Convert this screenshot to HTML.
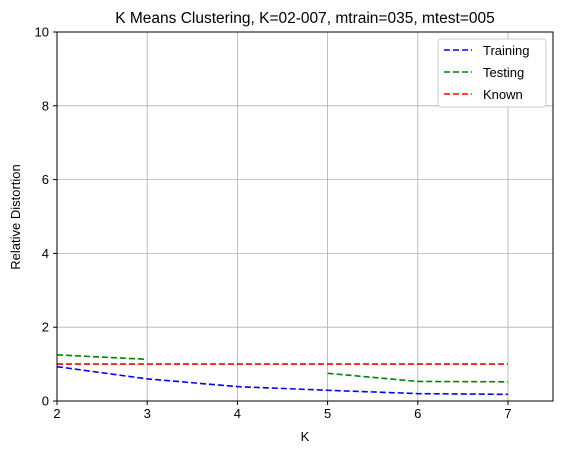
<!DOCTYPE html>
<html><head><meta charset="utf-8"><style>
body{margin:0;background:#fff;font-family:"Liberation Sans","DejaVu Sans",sans-serif;}
svg{display:block}
</style></head><body>
<svg id="chart" width="566" height="455" xmlns="http://www.w3.org/2000/svg">
<rect width="566" height="455" fill="#fff"/>
<g id="grid"></g>
<g id="series"></g>
<rect x="57" y="32" width="496" height="369" fill="none" stroke="#000" stroke-width="1"/>
<g id="ticks" font-size="13" fill="#000"></g>
<text x="305" y="23" text-anchor="middle" font-size="15.5">K Means Clustering, K=02-007, mtrain=035, mtest=005</text>
<text x="305" y="441" text-anchor="middle" font-size="13">K</text>
<text transform="translate(20,217) rotate(-90)" text-anchor="middle" font-size="13">Relative Distortion</text>
<g>
<rect x="438" y="39" width="108" height="68" rx="3" fill="#fff" stroke="#ccc"/>
<line x1="444" y1="50" x2="472" y2="50" stroke="#0000ff" stroke-width="1.6" stroke-dasharray="6,3"/>
<text x="483" y="55" font-size="13">Training</text>
<line x1="444" y1="72" x2="472" y2="72" stroke="#008000" stroke-width="1.6" stroke-dasharray="6,3"/>
<text x="483" y="77" font-size="13">Testing</text>
<line x1="444" y1="94" x2="472" y2="94" stroke="#ff0000" stroke-width="1.6" stroke-dasharray="6,3"/>
<text x="483" y="99" font-size="13">Known</text>
</g>
</svg>
<script>
const kValues=[2,3,4,5,6,7];
const training=[0.93,0.60,0.39,0.29,0.20,0.18];
const testing=[1.25,1.13,null,0.75,0.53,0.52];
const known=[1,1,1,1,1,1];
const xTicks=[2,3,4,5,6,7];
const yTicks=[0,2,4,6,8,10];
const NS="http://www.w3.org/2000/svg";
function xs(v){return 57+(v-2)*90.2;}
function ys(v){return 401-v*36.9;}
const grid=document.getElementById('grid'),ticks=document.getElementById('ticks'),ser=document.getElementById('series');
function mk(t,a,p){const e=document.createElementNS(NS,t);for(const k in a)e.setAttribute(k,a[k]);p.appendChild(e);return e;}
xTicks.forEach(v=>{
 const g=mk('line',{x1:xs(v),x2:xs(v),y1:32,y2:401,stroke:'#b0b0b0','stroke-width':0.8},grid);
 
 
 const t=mk('line',{x1:xs(v),x2:xs(v),y1:401,y2:405,stroke:'#000'},ticks);
 
 
 const l=mk('text',{x:xs(v),y:418,'text-anchor':'middle'},ticks);l.textContent=v;
 
 
});
yTicks.forEach(v=>{
 const g=mk('line',{x1:57,x2:553,y1:ys(v),y2:ys(v),stroke:'#b0b0b0','stroke-width':0.8},grid);
 
 
 const t=mk('line',{x1:53,x2:57,y1:ys(v),y2:ys(v),stroke:'#000'},ticks);
 
 
 const l=mk('text',{x:49,y:ys(v)+4.5,'text-anchor':'end'},ticks);l.textContent=v;
 
 
});
function draw(vals,color,name){
 let d='',pen=false;
 vals.forEach((v,i)=>{if(v===null){pen=false;return;}d+=(pen?'L':'M')+xs(kValues[i])+','+ys(v);pen=true;});
 const p=mk('path',{d:d,fill:'none',stroke:color,'stroke-width':1.6,'stroke-dasharray':'6,3'},ser);
 
 
}
draw(known,'#ff0000','known-line');
draw(testing,'#008000','testing-line');
draw(training,'#0000ff','training-line');
</script>
</body></html>
